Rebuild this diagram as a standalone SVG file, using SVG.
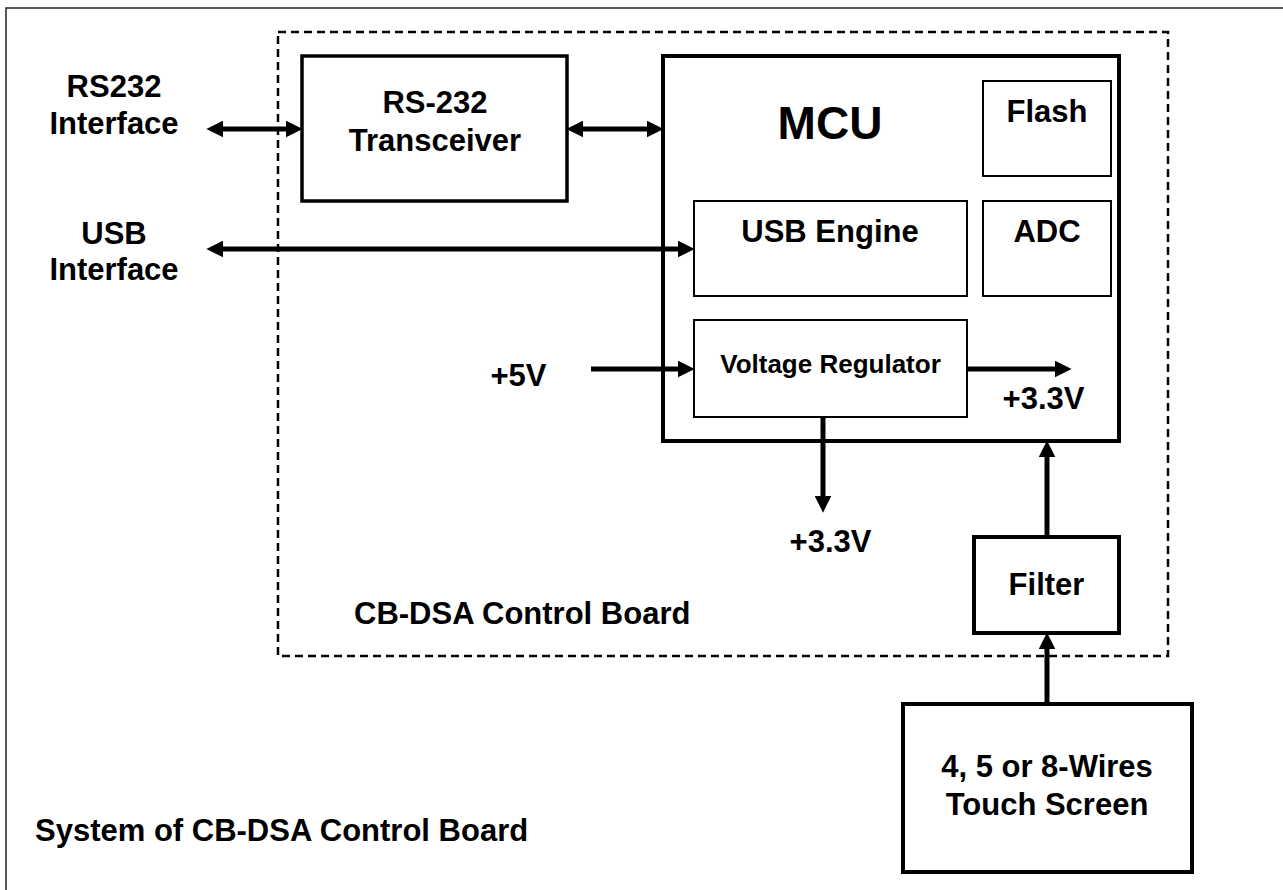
<svg xmlns="http://www.w3.org/2000/svg" width="1283" height="890" viewBox="0 0 1283 890">
<style>
  text{font-family:"Liberation Sans",Arial,Helvetica,sans-serif;font-weight:bold;fill:#000;}
  .lbl{font-size:31px;}
  .mid{text-anchor:middle;}
  .thick{fill:#fff;stroke:#000;stroke-width:4;}
  .med{fill:#fff;stroke:#000;stroke-width:3.5;}
  .thin{fill:#fff;stroke:#000;stroke-width:2;}
  .conn{fill:none;stroke:#000;stroke-width:5;}
</style>
<defs>
  <marker id="ah" markerUnits="userSpaceOnUse" markerWidth="17" markerHeight="17" viewBox="0 0 16 16" refX="6" refY="8" orient="auto-start-reverse">
    <path d="M0,0 L16,8 L0,16 z" fill="#000"/>
  </marker>
</defs>
<rect width="1283" height="890" fill="#fff"/>
<path id="frame" d="M6,895 V8 H1290" fill="none" stroke="#222" stroke-width="1.5"/>
<g id="board">
  <rect x="278" y="32" width="890" height="624" fill="none" stroke="#000" stroke-width="2.5" stroke-dasharray="8 5"/>
  <text class="lbl" x="354" y="624">CB-DSA Control Board</text>
</g>
<g id="rs232-interface">
  <text class="lbl mid" x="114" y="97">RS232</text>
  <text class="lbl mid" x="114" y="134">Interface</text>
</g>
<g id="usb-interface">
  <text class="lbl mid" x="114" y="244">USB</text>
  <text class="lbl mid" x="114" y="280">Interface</text>
</g>
<g id="transceiver">
  <rect class="med" x="302" y="56" width="265" height="145"/>
  <text class="lbl mid" x="435" y="113">RS-232</text>
  <text class="lbl mid" x="435" y="151">Transceiver</text>
</g>
<g id="mcu">
  <rect class="thick" x="663" y="56" width="456" height="385"/>
  <text class="mid" x="830" y="139" style="font-size:46px">MCU</text>
</g>
<g id="flash">
  <rect class="thin" x="983" y="81" width="128" height="95"/>
  <text class="lbl mid" x="1047" y="122">Flash</text>
</g>
<g id="adc">
  <rect class="thin" x="983" y="201" width="128" height="95"/>
  <text class="lbl mid" x="1047" y="242">ADC</text>
</g>
<g id="usb-engine">
  <rect class="thin" x="694" y="201" width="273" height="95"/>
  <text class="lbl mid" x="830" y="242">USB Engine</text>
</g>
<g id="voltage-regulator">
  <rect class="thin" x="694" y="320" width="273" height="97"/>
  <text class="mid" x="830.5" y="373" style="font-size:26px">Voltage Regulator</text>
</g>
<g id="v5">
  <text class="lbl mid" x="518.5" y="386">+5V</text>
</g>
<g id="v33-right">
  <text class="lbl mid" x="1043.5" y="409">+3.3V</text>
</g>
<g id="v33-down">
  <text class="lbl mid" x="830.5" y="552">+3.3V</text>
</g>
<g id="filter">
  <rect class="thick" x="974" y="537" width="145" height="96"/>
  <text class="lbl mid" x="1046.5" y="595">Filter</text>
</g>
<g id="touch-screen">
  <rect class="thick" x="903" y="704" width="289" height="168"/>
  <text class="lbl mid" x="1047" y="777">4, 5 or 8-Wires</text>
  <text class="lbl mid" x="1047" y="815">Touch Screen</text>
</g>
<g id="system-caption">
  <text class="lbl" x="35" y="841">System of CB-DSA Control Board</text>
</g>
<g id="connectors" class="conn">
  <line x1="217" y1="129" x2="292" y2="129" marker-start="url(#ah)" marker-end="url(#ah)"/>
  <line x1="577" y1="129" x2="653" y2="129" marker-start="url(#ah)" marker-end="url(#ah)"/>
  <line x1="217" y1="249" x2="684" y2="249" marker-start="url(#ah)" marker-end="url(#ah)"/>
  <line x1="591" y1="369" x2="684" y2="369" marker-end="url(#ah)"/>
  <line x1="967" y1="369" x2="1061" y2="369" marker-end="url(#ah)"/>
  <line x1="823" y1="417" x2="823" y2="502" marker-end="url(#ah)"/>
  <line x1="1047" y1="537" x2="1047" y2="451" marker-end="url(#ah)"/>
  <line x1="1047" y1="704" x2="1047" y2="643" marker-end="url(#ah)"/>
</g>
</svg>
